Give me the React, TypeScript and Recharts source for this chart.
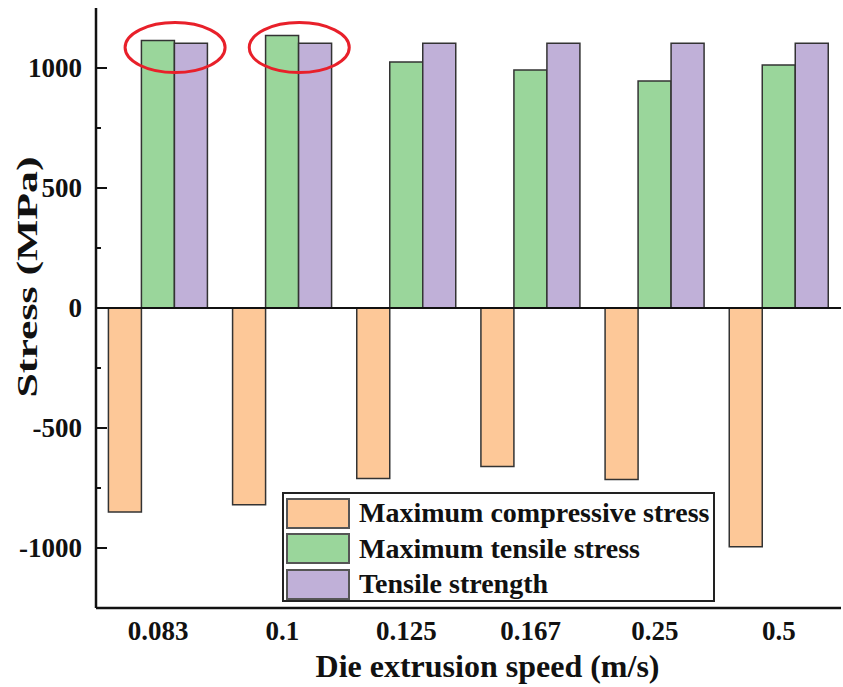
import React from "react";
import {
  BarChart,
  Bar,
  XAxis,
  YAxis,
  ReferenceLine,
  ReferenceDot,
} from "recharts";

const speeds = ["0.083", "0.1", "0.125", "0.167", "0.25", "0.5"];
const compressive = [-850, -820, -710, -660, -715, -995];
const tensile = [1115, 1135, 1025, 992, 946, 1013];
const strength = [1103, 1103, 1103, 1103, 1103, 1103];
const yTicks = [-1000, -750, -500, -250, 0, 250, 500, 750, 1000];
const circled = ["0.083", "0.1"];
const circleLevel = 1085;

const series = [
  { key: "compressive", name: "Maximum compressive stress", color: "#FDC898" },
  { key: "tensile", name: "Maximum tensile stress", color: "#9AD69B" },
  { key: "strength", name: "Tensile strength", color: "#C0B0D8" },
];

const data = speeds.map((s, i) => ({
  speed: s,
  compressive: compressive[i],
  tensile: tensile[i],
  strength: strength[i],
}));

const FONT = '"Liberation Serif", "Times New Roman", serif';

const YTick = (props: any) => {
  const { x, y, payload } = props;
  const major = payload.value % 500 === 0;
  const ax = x + 14;
  return (
    <g>
      <line x1={ax} x2={ax + (major ? 11 : 5)} y1={y} y2={y} stroke="#111" strokeWidth={2} />
      {major && (
        <text x={x} y={y} dy="0.35em" textAnchor="end" fontFamily={FONT} fontWeight="bold" fontSize={27} fill="#111">
          {payload.value}
        </text>
      )}
    </g>
  );
};

const XTitle = (props: any) => {
  const vb = props.viewBox;
  return (
    <text x={vb.x + vb.width / 2 + 19} y={677} textAnchor="middle" fontFamily={FONT} fontWeight="bold" fontSize={32} fill="#111">
      Die extrusion speed (m/s)
    </text>
  );
};

const YTitle = () => (
  <text
    transform="translate(37, 277) rotate(-90)"
    textAnchor="middle"
    textLength={241}
    lengthAdjust="spacingAndGlyphs"
    fontFamily={FONT}
    fontWeight="bold"
    fontSize={30}
    fill="#111"
  >
    Stress (MPa)
  </text>
);

export default function App() {
  return (
    <div style={{ position: "absolute", left: 0, top: 0, width: 843, height: 687, background: "#fff" }}>
      <BarChart
        width={843}
        height={687}
        data={data}
        margin={{ top: 8, right: 2, left: 0, bottom: 0 }}
        barCategoryGap="10%"
        barGap={0}
      >
        <XAxis
          dataKey="speed"
          height={79}
          tickSize={0}
          tickMargin={13}
          axisLine={{ stroke: "#111", strokeWidth: 2.5 }}
          tick={{ fontFamily: FONT, fontWeight: "bold", fontSize: 27, fill: "#111" }}
          label={<XTitle />}
        />
        <XAxis xAxisId="top" dataKey="speed" orientation="top" height={0} tick={false} tickLine={false} axisLine={{ stroke: "#333", strokeWidth: 2 }} />
        <YAxis
          width={96}
          domain={[-1250, 1250]}
          ticks={yTicks}
          interval={0}
          tickSize={0}
          tickMargin={14}
          tickLine={false}
          axisLine={{ stroke: "#111", strokeWidth: 2.5 }}
          tick={<YTick />}
          label={<YTitle />}
        />
        <YAxis yAxisId="right" orientation="right" width={0} domain={[-1250, 1250]} tick={false} tickLine={false} axisLine={{ stroke: "#333", strokeWidth: 2 }} />
        {series.map((s) => (
          <Bar key={s.key} dataKey={s.key} name={s.name} fill={s.color} stroke="#333" strokeWidth={1.5} isAnimationActive={false} />
        ))}
        <ReferenceLine y={0} stroke="#111" strokeWidth={2} />
        {circled.map((c) => (
          <ReferenceDot
            key={c}
            x={c}
            y={circleLevel}
            shape={(p: any) => (
              <ellipse cx={p.cx + 17} cy={p.cy} rx={50} ry={25} fill="none" stroke="#E8202A" strokeWidth={3} />
            )}
          />
        ))}
      </BarChart>
      <div
        style={{
          position: "absolute",
          left: 282,
          top: 492,
          width: 429,
          height: 106,
          border: "2px solid #222",
          boxSizing: "content-box",
          background: "#fff",
          fontFamily: FONT,
        }}
      >
        {series.map((s, i) => (
          <div key={s.key} style={{ position: "absolute", left: 0, top: 2 + i * 35.5, height: 34, display: "flex", alignItems: "center" }}>
            <div style={{ width: 60, height: 27, background: s.color, border: "2px solid #555", marginLeft: 2 }} />
            <span style={{ marginLeft: 9, fontSize: 28, fontWeight: "bold", color: "#111", whiteSpace: "nowrap", lineHeight: "34px" }}>
              {s.name}
            </span>
          </div>
        ))}
      </div>
    </div>
  );
}
